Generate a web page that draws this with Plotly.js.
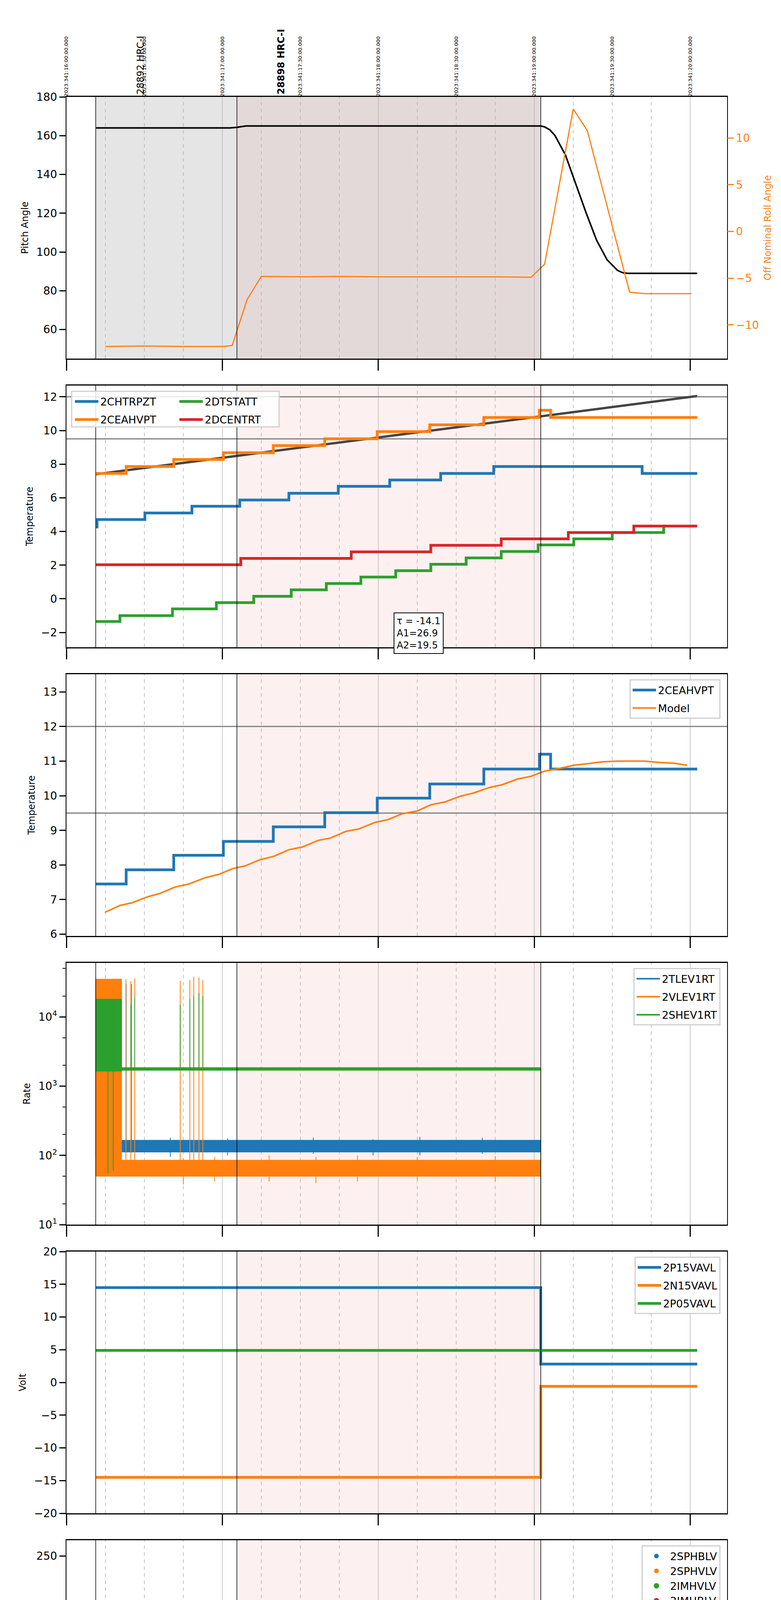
<!DOCTYPE html>
<html>
<head>
<meta charset="utf-8">
<script src="https://cdn.plot.ly/plotly-3.0.1.min.js"></script>
<style>body{margin:0;background:#fff}</style>
</head>
<body>
<div id="graph" style="width:2000px;height:6200px"></div>
<script>
// times are minutes after 2023-12-07 11:00 (local)
var obsStart = 11.3, obsMid = 65.6, obsEnd = 182.5;

// panel 1: pitch and roll
var pitchT = [11.3, 63, 65.6, 69, 100, 150, 180, 182.5, 184, 186, 188, 192, 196, 200, 204, 208, 212, 214, 216, 218, 242.7];
var pitchV = [164, 164, 164.3, 165, 165, 165, 165, 165, 164.5, 163, 160, 150, 135, 120, 106, 96, 90.5, 89.3, 89, 89, 89];
var rollT = [15, 30, 45, 60, 63.8, 69.5, 75, 90, 105, 120, 135, 150, 165, 178.8, 184, 195, 200.4, 216.7, 222.6, 240.4];
var rollV = [-12.3, -12.25, -12.3, -12.3, -12.2, -7.3, -4.8, -4.85, -4.8, -4.85, -4.85, -4.85, -4.85, -4.9, -3.5, 13.1, 10.8, -6.5, -6.65, -6.65];

// panel 2: temperatures
var ceahT = [11.3, 23, 41.3, 60.4, 79.6, 99.4, 119.6, 139.8, 160.6, 182, 186.3];
var ceahV = [7.45, 7.86, 8.28, 8.68, 9.1, 9.51, 9.93, 10.34, 10.77, 11.2, 10.77];
var chtrT = [11.3, 11.8, 30.2, 48.3, 66.7, 85.6, 104.6, 124.4, 144, 164.4, 221.5];
var chtrV = [4.27, 4.71, 5.1, 5.5, 5.87, 6.27, 6.68, 7.06, 7.45, 7.86, 7.45];
var dcenT = [11.3, 67.1, 109.6, 140.2, 167.3, 193.1, 218.3];
var dcenV = [2.02, 2.4, 2.79, 3.18, 3.56, 3.94, 4.32];
var dtstT = [11.3, 20.6, 40.8, 57.7, 72.1, 86.5, 100, 113.3, 126.7, 140.2, 153.8, 167.3, 181.5, 195.2, 210, 229.8];
var dtstV = [-1.35, -1.0, -0.6, -0.23, 0.15, 0.53, 0.91, 1.29, 1.67, 2.05, 2.43, 2.81, 3.2, 3.56, 3.94, 4.32];
var fitT = [11.3, 242.7];
var fitV = [7.4, 12.05];
var stepEnd = 242.7;

// panel 3: model
var modelT = [14.8, 20.6, 25.4, 31.2, 36, 41.7, 47.1, 53.3, 58.7, 63.8, 69, 74.4, 79.8, 85.6, 90.8, 96.9, 101.7, 107.5, 112.5, 118.7, 123.7, 129.2, 135, 140.2, 145.6, 151.3, 156.7, 162.5, 167.7, 173.5, 178.7, 184, 189.8, 195.2, 201, 206.2, 211.9, 222.5, 228.3, 233.7, 238.8];
var modelV = [6.63, 6.83, 6.91, 7.08, 7.18, 7.36, 7.45, 7.63, 7.73, 7.89, 7.98, 8.15, 8.25, 8.44, 8.52, 8.71, 8.78, 8.97, 9.04, 9.23, 9.31, 9.48, 9.56, 9.74, 9.82, 9.98, 10.08, 10.23, 10.32, 10.48, 10.56, 10.71, 10.79, 10.88, 10.93, 10.98, 11.0, 11.0, 10.96, 10.94, 10.88];

// panel 4: rates, dense noise given as [t0, t1, low, high] bands and [t, low, high] spikes
var tlevBands = [[11.3, 21.2, 100, 33000], [21.2, 182.4, 112, 165]];
var tlevSpikes = [[23.0, 110, 30000], [25.0, 110, 30000], [40, 95, 180], [62, 100, 175], [95, 105, 180], [118, 100, 170], [136, 100, 185], [160, 105, 180]];
var vlevBands = [[11.3, 21.2, 50, 35000], [21.2, 182.4, 50, 85]];
var vlevSpikes = [[22.9, 55, 35000], [24.8, 55, 33000], [26.3, 55, 36000], [43.8, 60, 33000], [47.5, 60, 34000], [49, 60, 38000], [51, 60, 37000], [52.5, 60, 34000],
    [45, 38, 90], [57, 42, 95], [78, 42, 100], [96, 40, 95], [112, 42, 100], [135, 44, 95], [165, 42, 98]];
var shevBands = [[11.3, 21.2, 1650, 18000], [21.2, 182.4, 1700, 1850]];
var shevSpikes = [[16, 55, 1700], [18, 60, 1700], [24.8, 1700, 15000], [26.3, 1700, 19000], [43.8, 1700, 15000], [47.5, 1700, 18000], [49, 1700, 20000], [51, 1700, 22000], [52.5, 1700, 20000], [182.5, 10, 1800]];

// panel 5: volts
var p15T = [11.3, 182.5], p15V = [14.5, 2.8];
var n15T = [11.3, 182.5], n15V = [-14.5, -0.6];
var p05T = [11.3], p05V = [4.9];

// panel 6: HV monitor
var imhbLevel = 86, imhvLevel = 79;
var imhvOutT = [12.6, 13.2, 16.4, 49.0, 49.8], imhvOutV = [127, 127, 127, 127, 127];
var imhbOutT = [12.8, 15.9, 49.3], imhbOutV = [79, 79, 79];

// panel 7: detector temps
var spinT = [21.2, 73, 116.3, 154.2], spinV = [4.6, 5.09, 5.54, 6.03];
var spinBands = [[11.3, 21.2, 2.0, 4.2], [49, 52.5, 2.0, 4.6]];
var spinSpikes = [[22.9, 2.0, 4.6], [24.8, 2.0, 4.6], [26.3, 2.0, 4.6], [43.8, 2.0, 4.6]];
var sphvT = [21.2, 36.9, 54.8, 72.3, 89.4, 107.1, 124.4, 141.7, 159, 176.9], sphvV = [15.82, 16.1, 16.4, 16.71, 16.99, 17.27, 17.56, 17.84, 18.12, 18.41];
var sphvBands = [[11.3, 18.5, 10.6, 16.4]];
var sphvSpikes = [[17.7, 2.0, 16.0], [19.5, 10.8, 15.8], [20.5, 10.8, 15.8], [22.9, 10.8, 15.8], [24.8, 10.8, 15.8], [26.3, 10.8, 15.8], [43.8, 11.4, 16.1], [47.5, 11.4, 16.1], [49, 11.4, 16.1], [50.5, 11.4, 16.1], [52.5, 11.4, 16.1]];
var iminT = [11.3, 97.5, 151.3], iminV = [3.7, 4.14, 4.6];
var iminBands = [[11.3, 21.2, 3.6, 4.2], [49, 52.5, 3.6, 4.6]];
var iminSpikes = [[22.9, 3.6, 4.6], [24.8, 3.6, 4.6], [26.3, 3.6, 4.6], [43.8, 3.6, 4.6]];
var imhvaT = [21.2, 26, 38.3, 51, 65.6, 80, 96.2, 112.5, 129.8, 146.7, 164.4], imhvaV = [16.75, 16.96, 17.24, 17.56, 17.83, 18.12, 18.41, 18.7, 19.0, 19.29, 19.6];
var imhvaBands = [[11.3, 21.2, 15.5, 16.7], [49, 52.5, 16.0, 17.55]];
var imhvaSpikes = [[17.7, 10.8, 16.0], [43.7, 16.0, 17.24], [47.5, 16.0, 17.24], [182.5, -50, 50]];
var detEnd = 182.3;

// panel 8: FEA temps
var fhtrT = [11.3, 21.2, 24, 31.7, 39.4, 46.5, 53.7, 61.9, 69.2, 77.7, 86, 95, 103.7, 112.5, 121.9, 131.5, 141.2, 151, 161.3, 171.5, 182, 205.8, 222.9];
var fhtrV = [-1.75, -1.37, -1.0, -0.61, -0.23, 0.14, 0.52, 0.9, 1.27, 1.65, 2.03, 2.4, 2.78, 3.16, 3.53, 3.91, 4.3, 4.71, 5.08, 5.48, 5.86, 5.48, 5.08];
var fhtrBands = [[11.3, 21.2, -3, -1.4]];
var fradT = [24, 31.7, 39.4, 47.1, 54.8, 62.9, 72.5, 85, 95.6, 105.2, 115.4, 125.4, 135.6, 146, 156.7, 167.7, 179.2, 192.3, 201.3, 209, 240.4];
var fradV = [-2.12, -1.75, -1.37, -1.0, -0.61, -0.23, 0.14, 0.52, 0.9, 1.29, 1.65, 2.03, 2.4, 2.8, 3.16, 3.55, 3.95, 3.55, 3.16, 2.8, 2.4];
var fepT = [11.3, 21.9, 30.2, 38.5, 47.1, 55.6, 64.8, 74, 83.7, 94, 105.2, 116.2, 127.9, 139.8, 152.3, 165.4, 178.7], fepV = [0.65, 1.51, 1.93, 2.37, 2.82, 3.25, 3.71, 4.16, 4.61, 5.07, 5.55, 6.02, 6.5, 6.98, 7.45, 7.95, 8.4];
var fepBands = [[13.5, 21.2, -3, 1.1], [49, 52.5, -3, 2.8]];
var fepSpikes = [[22.9, -3, 1.5], [24.8, -3, 1.5], [26.3, -3, 1.5], [43.8, -3, 2.37]];
var fe00T = [21.2, 33, 38.5, 43.7, 50.4, 56.2, 61.9, 68, 74, 81.2, 88.8, 95, 102.3, 109, 116.7, 123.8, 131.5, 139.4, 146.2, 154.2, 162.5, 170.6, 175.4], fe00V = [1.73, 2.05, 2.36, 2.67, 2.97, 3.27, 3.57, 3.85, 4.14, 4.44, 4.75, 5.03, 5.31, 5.6, 5.88, 6.17, 6.44, 6.73, 7.0, 7.3, 7.58, 7.85, 8.13];
var fe00Bands = [[11.3, 21.2, 1.1, 8.6], [49, 52.5, 2.9, 8.6]];
var fe00Spikes = [[22.9, 1.7, 8.6], [24.8, 1.7, 8.6], [26.3, 1.7, 8.6], [43.7, 2.67, 8.6], [47.5, 2.97, 8.6], [182.5, -50, 50]];

var utcLabels = ['2023:341:16:00:00.000', '2023:341:16:30:00.000', '2023:341:17:00:00.000', '2023:341:17:30:00.000', '2023:341:18:00:00.000', '2023:341:18:30:00.000', '2023:341:19:00:00.000', '2023:341:19:30:00.000', '2023:341:20:00:00.000'];
var hourLabels = ['11h', '12h', '13h', '14h', '15h'];
var minuteLabels = ['15', '30', '45'];

var C = ['#1f77b4', '#ff7f0e', '#2ca02c', '#d62728'];
var FONT = 'DejaVu Sans, sans-serif';

function tm(m) {
    var d = new Date(Date.UTC(2023, 11, 7, 11, 0, 0) + m * 60000);
    return d.toISOString().replace('T', ' ').replace('Z', '');
}
function tms(arr) { return arr.map(tm); }

function stepTrace(T, V, end, color, name, n, lg, width) {
    var x = T.slice(), y = V.slice();
    x.push(end); y.push(V[V.length - 1]);
    return {x: tms(x), y: y, mode: 'lines', line: {color: color, width: width || 7, shape: 'hv'},
        name: name, xaxis: 'x' + (n == 1 ? '' : n), yaxis: 'y' + (n == 1 ? '' : n),
        legend: lg, legendgroup: name, showlegend: !!lg};
}
function noiseTrace(bands, spikes, color, name, n, lw) {
    var x = [], y = [];
    bands.forEach(function (b) {
        x.push(tm(b[0]), tm(b[1]), tm(b[1]), tm(b[0]), tm(b[0]), null);
        y.push(b[2], b[2], b[3], b[3], b[2], null);
    });
    spikes.forEach(function (s) {
        x.push(tm(s[0]), tm(s[0]), null);
        y.push(s[1], s[2], null);
    });
    return {x: x, y: y, mode: 'lines', fill: 'toself', fillcolor: color, line: {color: color, width: lw || 5},
        xaxis: 'x' + n, yaxis: 'y' + n, legendgroup: name, showlegend: false, hoverinfo: 'skip'};
}

var data = [];
// panel 1
data.push({x: tms(pitchT), y: pitchV, mode: 'lines', line: {color: 'black', width: 4}, showlegend: false, xaxis: 'x', yaxis: 'y'});
data.push({x: tms(rollT), y: rollV, mode: 'lines', line: {color: C[1], width: 3}, showlegend: false, xaxis: 'x', yaxis: 'y9'});
// panel 2
data.push({x: tms(fitT), y: fitV, mode: 'lines', line: {color: '#444', width: 6}, showlegend: false, xaxis: 'x2', yaxis: 'y2'});
data.push(stepTrace(chtrT, chtrV, stepEnd, C[0], '2CHTRPZT', 2, 'legend'));
data.push(stepTrace(dtstT, dtstV, 230.5, C[2], '2DTSTATT', 2, 'legend8'));
data.push(stepTrace(ceahT, ceahV, stepEnd, C[1], '2CEAHVPT', 2, 'legend'));
data.push(stepTrace(dcenT, dcenV, stepEnd, C[3], '2DCENTRT', 2, 'legend8'));
// panel 3
data.push(stepTrace(ceahT, ceahV, stepEnd, C[0], '2CEAHVPT ', 3, 'legend2'));
data.push({x: tms(modelT), y: modelV, mode: 'lines', line: {color: C[1], width: 4}, name: 'Model', xaxis: 'x3', yaxis: 'y3', legend: 'legend2'});
// panel 4
[[tlevBands, tlevSpikes, '2TLEV1RT'], [vlevBands, vlevSpikes, '2VLEV1RT'], [shevBands, shevSpikes, '2SHEV1RT']].forEach(function (r, i) {
    data.push(noiseTrace(r[0], r[1], C[i], r[2], 4, 2));
    data.push({x: [null], y: [null], mode: 'lines', line: {color: C[i], width: 4}, name: r[2], xaxis: 'x4', yaxis: 'y4', legend: 'legend3', legendgroup: r[2]});
});
// panel 5
data.push(stepTrace(p15T, p15V, stepEnd, C[0], '2P15VAVL', 5, 'legend4'));
data.push(stepTrace(n15T, n15V, stepEnd, C[1], '2N15VAVL', 5, 'legend4'));
data.push(stepTrace(p05T, p05V, stepEnd, C[2], '2P05VAVL', 5, 'legend4'));
// panel 6
data.push({x: [tm(obsStart)], y: [imhbLevel], mode: 'markers', marker: {color: C[0], size: 12}, name: '2SPHBLV', xaxis: 'x6', yaxis: 'y6', legend: 'legend5'});
data.push({x: [tm(obsStart)], y: [imhbLevel], mode: 'markers', marker: {color: C[1], size: 12}, name: '2SPHVLV', xaxis: 'x6', yaxis: 'y6', legend: 'legend5'});
data.push({x: [tm(obsStart), tm(obsEnd)], y: [imhvLevel, imhvLevel], mode: 'lines', line: {color: C[2], width: 13}, showlegend: false, xaxis: 'x6', yaxis: 'y6'});
data.push({x: tms([obsStart, obsEnd].concat(imhvOutT)), y: [imhvLevel, imhvLevel].concat(imhvOutV), mode: 'markers', marker: {color: C[2], size: 14}, name: '2IMHVLV', xaxis: 'x6', yaxis: 'y6', legend: 'legend5'});
data.push({x: [tm(obsStart), tm(obsEnd)], y: [imhbLevel, imhbLevel], mode: 'lines', line: {color: C[3], width: 13}, showlegend: false, xaxis: 'x6', yaxis: 'y6'});
data.push({x: tms([obsStart, obsEnd].concat(imhbOutT)), y: [imhbLevel, imhbLevel].concat(imhbOutV), mode: 'markers', marker: {color: C[3], size: 14}, name: '2IMHBLV', xaxis: 'x6', yaxis: 'y6', legend: 'legend5'});
// panel 7
data.push(noiseTrace(spinBands, spinSpikes, C[0], '2SPINATM', 7, 5));
data.push(stepTrace(spinT, spinV, detEnd, C[0], '2SPINATM', 7, 'legend6'));
data.push(noiseTrace(sphvBands, sphvSpikes, C[1], '2SPHVATM', 7, 5));
data.push(stepTrace(sphvT, sphvV, detEnd, C[1], '2SPHVATM', 7, 'legend6'));
data.push(noiseTrace(iminBands, iminSpikes, C[2], '2IMINATM', 7, 5));
data.push(stepTrace(iminT, iminV, detEnd, C[2], '2IMINATM', 7, 'legend6'));
data.push(noiseTrace(imhvaBands, imhvaSpikes, C[3], '2IMHVATM', 7, 5));
data.push(stepTrace(imhvaT, imhvaV, detEnd, C[3], '2IMHVATM', 7, 'legend6'));
// panel 8
data.push(noiseTrace(fhtrBands, [], C[0], '2FHTRMZT', 8, 5));
data.push(stepTrace(fhtrT, fhtrV, stepEnd, C[0], '2FHTRMZT', 8, 'legend7'));
data.push(stepTrace(fradT, fradV, stepEnd, C[1], '2FRADPYT', 8, 'legend7'));
data.push(noiseTrace(fepBands, fepSpikes, C[2], '2FEPRATM', 8, 5));
data.push(stepTrace(fepT, fepV, detEnd, C[2], '2FEPRATM', 8, 'legend7'));
data.push(noiseTrace(fe00Bands, fe00Spikes, C[3], '2FE00ATM', 8, 5));
data.push(stepTrace(fe00T, fe00V, detEnd, C[3], '2FE00ATM', 8, 'legend7'));

// layout
var H = 6200 - 248 - 109;
function dom(i) { return [1 - (670 + 739 * i) / H, 1 - (739 * i) / H]; }
var xr = [tm(0), tm(254.2)];
var hourVals = [0, 60, 120, 180, 240];
var layout = {
    width: 2000, height: 6200, margin: {l: 170, r: 138, t: 248, b: 109},
    paper_bgcolor: 'white', plot_bgcolor: 'white',
    font: {family: FONT, size: 28, color: 'black'},
    shapes: [], annotations: []
};
var yTitles = ['Pitch Angle', 'Temperature', 'Temperature', 'Rate', 'Volt', 'HV Monitor', 'Detector Temp', 'FEA Temp'];
var yRanges = [[45, 180], [-2.88, 12.67], [5.95, 13.51], [1, 4.78], [-20, 20], [0, 266], [2.19, 20.49], [-2.5, 8.49]];
var yDticks = [20, 2, 1, null, 5, 50, 2.5, 2];
var gridVals = [];
for (var g = 15; g <= 240; g += 15) if (g % 60) gridVals.push(tm(g));
for (var i = 0; i < 8; i++) {
    var n = i + 1, s = n == 1 ? '' : n;
    var last = i == 7;
    var xa = {
        domain: [0, 1], anchor: 'y' + s, type: 'date', range: xr, showline: true, mirror: true, linecolor: 'black', linewidth: 3,
        tickvals: tms(hourVals), ticktext: hourLabels, ticks: 'outside', ticklen: 28, tickwidth: 3, tickcolor: 'black',
        showgrid: false, zeroline: false, showticklabels: last
    };
    if (last) {
        xa.tickfont = {size: 30};
        xa.ticklabelstandoff = 14;
        xa.minor = {tickvals: gridVals, ticks: 'outside', ticklen: 14, tickwidth: 2, tickcolor: 'black', showgrid: false};
        xa.title = {text: '2023-12-07 (341)', font: {size: 30, family: FONT}, standoff: 6};
        gridVals.forEach(function (gv, k) {
            layout.annotations.push({xref: 'x8', yref: 'paper', x: gv, y: 0, yanchor: 'top', yshift: -16, showarrow: false,
                text: minuteLabels[k % 3], font: {size: 19, family: FONT}});
        });
    }
    if (i > 0) xa.matches = 'x';
    layout['xaxis' + s] = xa;
    var ya = {
        domain: dom(i), anchor: 'x' + s, range: yRanges[i], showline: true, mirror: true, linecolor: 'black', linewidth: 2,
        ticks: 'outside', ticklen: 16, tickwidth: 3, tickcolor: 'black', showgrid: false, zeroline: false,
        title: {text: yTitles[i], font: {family: FONT, size: 24}, standoff: 14}
    };
    if (yDticks[i]) ya.dtick = yDticks[i];
    if (i == 0) { ya.tick0 = 60; }
    if (i == 3) {
        ya.type = 'log';
        ya.tickvals = [10, 100, 1000, 10000];
        ya.ticktext = ['10<sup>1</sup>', '10<sup>2</sup>', '10<sup>3</sup>', '10<sup>4</sup>'];
        ya.minor = {ticks: 'outside', ticklen: 8, tickwidth: 2, tickcolor: 'black', dtick: 'D2', showgrid: false};
    }
    if (i == 6) ya.tickformat = '.1f';
    layout['yaxis' + s] = ya;

    // shading, grid and observation window markers
    var xref = 'x' + s, yref = 'y' + s + ' domain';
    if (i == 0) {
        layout.shapes.push({type: 'rect', xref: xref, yref: yref, x0: tm(obsStart), x1: tm(obsMid), y0: 0, y1: 1, fillcolor: '#e5e5e5', line: {width: 0}, layer: 'below'});
        layout.shapes.push({type: 'rect', xref: xref, yref: yref, x0: tm(obsMid), x1: tm(obsEnd), y0: 0, y1: 1, fillcolor: '#e4d9d9', line: {width: 0}, layer: 'below'});
    } else {
        layout.shapes.push({type: 'rect', xref: xref, yref: yref, x0: tm(obsMid), x1: tm(obsEnd), y0: 0, y1: 1, fillcolor: '#fdf0f0', line: {width: 0}, layer: 'below'});
    }
    gridVals.forEach(function (gv) {
        layout.shapes.push({type: 'line', xref: xref, yref: yref, x0: gv, x1: gv, y0: 0, y1: 1, line: {color: '#b0b0b0', width: 1.5, dash: 'dash'}, layer: 'below'});
    });
    hourVals.forEach(function (h) {
        layout.shapes.push({type: 'line', xref: xref, yref: yref, x0: tm(h), x1: tm(h), y0: 0, y1: 1, line: {color: '#b8b8b8', width: 1.5}, layer: 'below'});
    });
    [obsStart, obsMid, obsEnd].forEach(function (t) {
        layout.shapes.push({type: 'line', xref: xref, yref: yref, x0: tm(t), x1: tm(t), y0: 0, y1: 1, line: {color: 'black', width: 1.5}, layer: 'above'});
    });
}
// horizontal limit lines
[2, 3].forEach(function (n) {
    [12, 9.5].forEach(function (v) {
        layout.shapes.push({type: 'line', xref: 'x' + n + ' domain', yref: 'y' + n, x0: 0, x1: 1, y0: v, y1: v, line: {color: '#808080', width: 3}, layer: 'below'});
    });
});
// top UTC axis and roll axis
var utcVals = [];
for (var k = 0; k < utcLabels.length; k++) utcVals.push(tm(30 * k));
layout.xaxis9 = {overlaying: 'x', matches: 'x', side: 'top', anchor: 'y', type: 'date', tickvals: utcVals, ticktext: utcLabels,
    tickangle: -90, tickfont: {family: FONT, size: 13}, ticks: '', showgrid: false, showline: false};
data.push({x: [tm(0)], y: [null], xaxis: 'x9', yaxis: 'y', showlegend: false, hoverinfo: 'skip'});
layout.yaxis9 = {overlaying: 'y', side: 'right', anchor: 'x', range: [-13.6, 14.4], dtick: 5, tick0: 0, showgrid: false, zeroline: false,
    ticks: 'outside', ticklen: 16, tickwidth: 3, tickcolor: C[1], tickfont: {color: C[1]},
    title: {text: 'Off Nominal Roll Angle', font: {family: FONT, size: 24, color: C[1]}, standoff: 14}};
layout.annotations.push({xref: 'x', yref: 'paper', x: tm(28.5), y: 1, yanchor: 'bottom', xanchor: 'center', textangle: -90, yshift: 4,
    text: '28892 HRC-I', showarrow: false, font: {family: FONT, size: 24}});
layout.annotations.push({xref: 'x', yref: 'paper', x: tm(82.5), y: 1, yanchor: 'bottom', xanchor: 'center', textangle: -90, yshift: 4,
    text: '<b>28898 HRC-I</b>', showarrow: false, font: {family: FONT, size: 24}});
layout.annotations.push({xref: 'x2', yref: 'y2 domain', x: tm(135.5), y: -0.025, yanchor: 'bottom', xanchor: 'center', align: 'left',
    text: 'τ = -14.1<br>A1=26.9<br>A2=19.5', showarrow: false, bordercolor: 'black', borderwidth: 2, borderpad: 6, bgcolor: 'white',
    font: {family: FONT, size: 24}});

function leg(i, x, xa, y, ya, extra) {
    var d = dom(i);
    var o = {x: x, xanchor: xa, y: d[0] + (d[1] - d[0]) * y, yanchor: ya, bgcolor: 'rgba(255,255,255,0.85)', bordercolor: '#d0d0d0', borderwidth: 3,
        font: {family: FONT, size: 27}, itemwidth: 60, tracegroupgap: 8};
    for (var k in extra) o[k] = extra[k];
    return o;
}
// the two-column legend of panel 2 is two legends inside one box
var d2 = dom(1);
layout.shapes.push({type: 'rect', xref: 'paper', yref: 'paper', x0: 0.008, x1: 0.322,
    y0: d2[0] + (d2[1] - d2[0]) * 0.842, y1: d2[0] + (d2[1] - d2[0]) * 0.978,
    fillcolor: 'rgba(255,255,255,0.85)', line: {color: '#d0d0d0', width: 3}, layer: 'above'});
layout.legend = leg(1, 0.010, 'left', 0.975, 'top', {bgcolor: 'rgba(0,0,0,0)', borderwidth: 0});
layout.legend8 = leg(1, 0.168, 'left', 0.975, 'top', {bgcolor: 'rgba(0,0,0,0)', borderwidth: 0});
layout.legend2 = leg(2, 0.99, 'right', 0.98, 'top', {});
layout.legend3 = leg(3, 0.99, 'right', 0.98, 'top', {});
layout.legend4 = leg(4, 0.99, 'right', 0.98, 'top', {});
layout.legend5 = leg(5, 0.99, 'right', 0.98, 'top', {});
layout.legend6 = leg(6, 0.99, 'right', 0.98, 'top', {});
layout.legend7 = leg(7, 0.99, 'right', 0.02, 'bottom', {});

Plotly.newPlot('graph', data, layout, {staticPlot: true});
</script>
</body>
</html>
